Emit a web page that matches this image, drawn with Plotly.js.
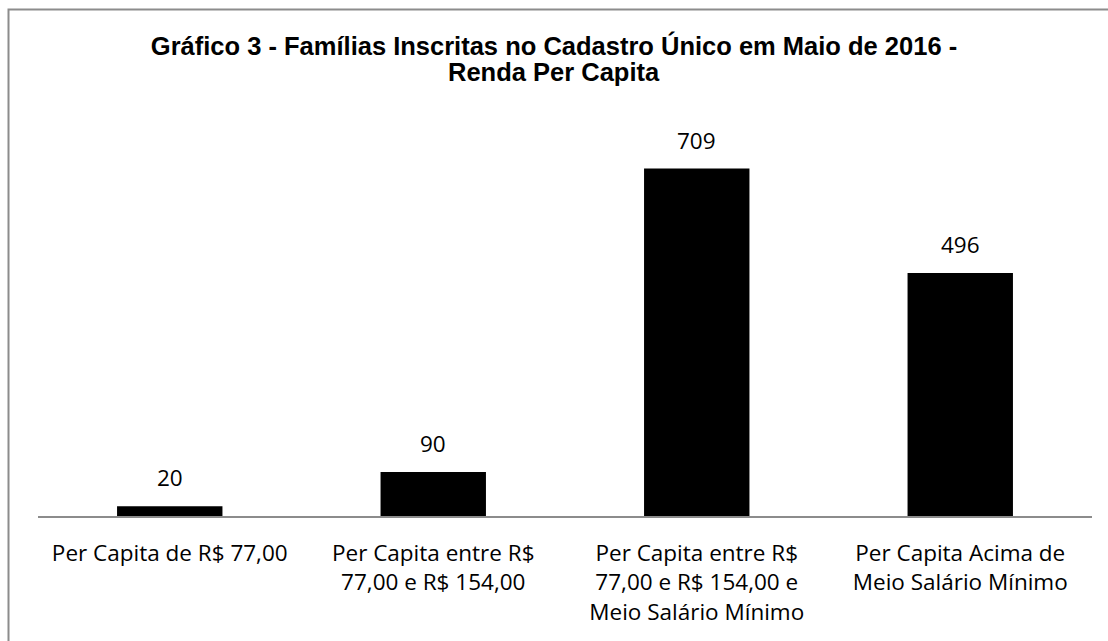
<!DOCTYPE html>
<html>
<head>
<meta charset="utf-8">
<script src="https://cdn.plot.ly/plotly-3.0.1.min.js"></script>
<style>
  html, body { margin: 0; padding: 0; background: #ffffff; }
  #chart { width: 1108px; height: 641px; }
</style>
</head>
<body>
<div id="chart"></div>
<script>
const categories = [
  "Per Capita de R$ 77,00",
  "Per Capita entre R$<br>77,00 e R$ 154,00",
  "Per Capita entre R$<br>77,00 e R$ 154,00 e<br>Meio Salário Mínimo",
  "Per Capita Acima de<br>Meio Salário Mínimo"
];
const values = [20, 90, 709, 496];
const titleLine1 = "Gráfico 3 - Famílias Inscritas no Cadastro Único em Maio de 2016 -";
const titleLine2 = "Renda Per Capita";

const labelFont = { family: "'Open Sans', 'Noto Sans', sans-serif", size: 22.5, color: "#000000" };
const titleFont = { family: "'Liberation Sans', Arial, sans-serif", size: 25.5, color: "#000000", weight: "bold" };

const trace = {
  type: "bar",
  x: categories,
  y: values,
  marker: { color: "#000000" },
  hoverinfo: "skip"
};

const annotations = categories.map((c, i) => ({
  x: c,
  y: values[i],
  xref: "x",
  yref: "y",
  text: String(values[i]),
  showarrow: false,
  yanchor: "bottom",
  yshift: 11,
  font: labelFont
}));

// second line of the chart title
annotations.push({
  xref: "paper",
  yref: "paper",
  x: (554 - 38) / 1054,
  y: (516 - 72) / 392,
  xanchor: "center",
  yanchor: "middle",
  text: titleLine2,
  showarrow: false,
  font: titleFont
});

const layout = {
  width: 1108,
  height: 641,
  margin: { l: 38, r: 16, t: 124, b: 125 },
  paper_bgcolor: "#ffffff",
  plot_bgcolor: "#ffffff",
  showlegend: false,
  bargap: 0.6,
  title: {
    text: titleLine1,
    font: titleFont,
    x: 0.5,
    xanchor: "center",
    xref: "container",
    yref: "container",
    y: 1 - 46 / 641,
    yanchor: "middle"
  },
  xaxis: {
    type: "category",
    showline: true,
    linecolor: "#8c8c8c",
    linewidth: 2,
    showgrid: false,
    zeroline: false,
    ticks: "",
    ticklabelstandoff: 16,
    tickfont: labelFont,
    fixedrange: true
  },
  yaxis: {
    range: [0, 800],
    visible: false,
    showgrid: false,
    zeroline: false,
    fixedrange: true
  },
  annotations: annotations,
  shapes: [{
    type: "rect",
    xref: "paper",
    yref: "paper",
    x0: (8.5 - 38) / 1054,
    x1: (1130 - 38) / 1054,
    y0: (516 - 660) / 392,
    y1: (516 - 9.5) / 392,
    line: { color: "#8c8c8c", width: 2 },
    fillcolor: "rgba(0,0,0,0)",
    layer: "below"
  }]
};

Plotly.newPlot("chart", [trace], layout, { displayModeBar: false, staticPlot: true });
</script>
</body>
</html>
